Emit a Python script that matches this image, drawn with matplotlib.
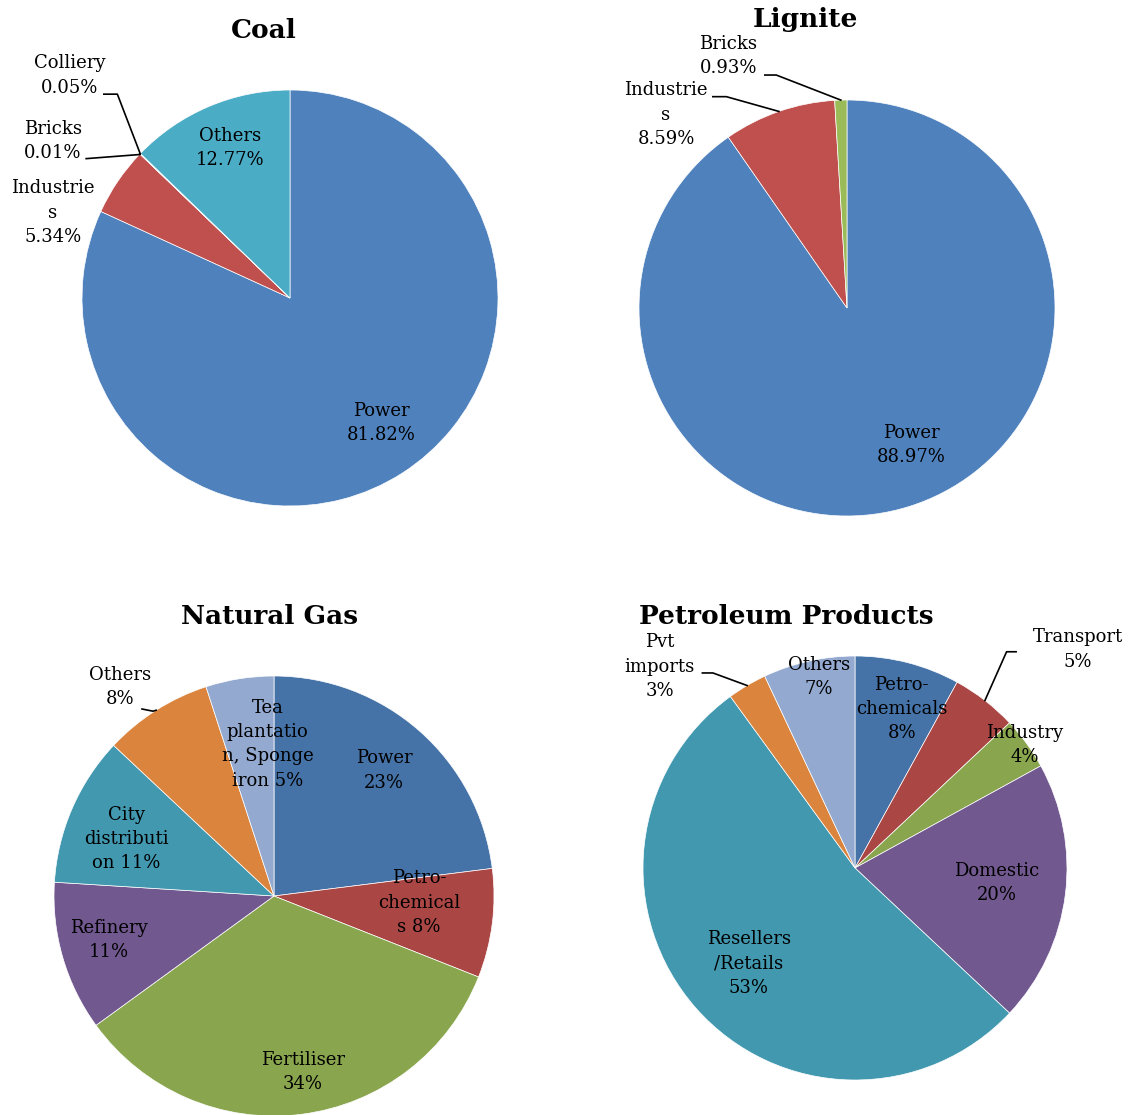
import numpy as np
from matplotlib import pyplot as plt

plt.rcParams['font.family'] = ['DejaVu Serif']

W, H = 1131, 1115

# data
coal_labels = ["Power\n81.82%", "Industrie\ns\n5.34%", "Bricks\n0.01%", "Colliery\n0.05%", "Others\n12.77%"]
coal_values = [81.82, 5.34, 0.01, 0.05, 12.77]

lignite_labels = ["Power\n88.97%", "Industrie\ns\n8.59%", "Bricks\n0.93%"]
lignite_values = [88.97, 8.59, 0.93]

gas_labels = ["Power\n23%", "Petro-\nchemical\ns 8%", "Fertiliser\n34%", "Refinery\n11%",
              "City\ndistributi\non 11%", "Others\n8%", "Tea\nplantatio\nn, Sponge\niron 5%"]
gas_values = [23, 8, 34, 11, 11, 8, 5]

petro_labels = ["Petro-\nchemicals\n8%", "Transport\n5%", "Industry\n4%", "Domestic\n20%",
                "Resellers\n/Retails\n53%", "Pvt\nimports\n3%", "Others\n7%"]
petro_values = [8, 5, 4, 20, 53, 3, 7]

office = ["#4F81BD", "#C0504D", "#9BBB59", "#8064A2", "#4BACC6"]
office2 = ["#4572A7", "#AA4643", "#89A54E", "#71588F", "#4198AF", "#DB843D", "#93A9CF"]

fig = plt.figure(figsize=(W / 100, H / 100), dpi=100)


def make_pie(cx, cy, r, values, labels, colors, title, title_xy, label_pos, leaders):
    ax = fig.add_axes([(cx - r) / W, 1 - (cy + r) / H, 2 * r / W, 2 * r / H])
    wedges, _ = ax.pie(values, colors=colors, startangle=90, counterclock=False, radius=1,
                       wedgeprops=dict(edgecolor='white', linewidth=0.5))
    ax.set_xlim(-1, 1)
    ax.set_ylim(-1, 1)
    ax.set_aspect('equal')
    ax.axis('off')
    for lab, (x, y) in zip(labels, label_pos):
        ax.text(x, y, lab, ha='center', va='center', fontsize=13, linespacing=1.45,
                multialignment='center', clip_on=False)
    # leader lines: (wedge index, points near the label, position along the wedge arc)
    for idx, pts, frac in leaders:
        w = wedges[idx]
        ang = np.deg2rad(w.theta1 + (w.theta2 - w.theta1) * frac)
        xs = [p[0] for p in pts] + [np.cos(ang)]
        ys = [p[1] for p in pts] + [np.sin(ang)]
        ax.plot(xs, ys, color='black', lw=1.2, clip_on=False)
    fig.text(title_xy[0] / W, 1 - title_xy[1] / H, title, ha='center', va='center',
             fontsize=19, fontweight='bold')


make_pie(290, 298, 208, coal_values, coal_labels, office, "Coal", (264, 30),
         [(0.44, -0.60), (-1.14, 0.41), (-1.14, 0.755), (-1.06, 1.07), (-0.29, 0.72)],
         [(2, [(-0.98, 0.67), (-0.72, 0.69)], 0.5),
          (3, [(-0.895, 0.98), (-0.83, 0.98)], 0.5)])

make_pie(847, 308, 208, lignite_values, lignite_labels, office[:3], "Lignite", (805, 19),
         [(0.31, -0.66), (-0.87, 0.93), (-0.57, 1.21)],
         [(1, [(-0.645, 1.016), (-0.58, 1.016)], 0.5),
          (2, [(-0.395, 1.12), (-0.34, 1.12)], 0.5)])

make_pie(274, 896, 220, gas_values, gas_labels, office2, "Natural Gas", (270, 617),
         [(0.50, 0.57), (0.66, -0.03), (0.13, -0.80), (-0.75, -0.20),
          (-0.67, 0.26), (-0.70, 0.95), (-0.03, 0.69)],
         [(5, [(-0.60, 0.85), (-0.55, 0.84)], 0.5)])

make_pie(855, 868, 212, petro_values, petro_labels, office2, "Petroleum Products", (786, 616),
         [(0.22, 0.75), (1.05, 1.03), (0.80, 0.58), (0.67, -0.07),
          (-0.50, -0.45), (-0.92, 0.95), (-0.17, 0.90)],
         [(1, [(0.76, 1.02), (0.715, 1.02)], 0.5),
          (5, [(-0.72, 0.92), (-0.67, 0.92)], 0.5)])

fig.savefig("out.png", dpi=100, facecolor='white')
